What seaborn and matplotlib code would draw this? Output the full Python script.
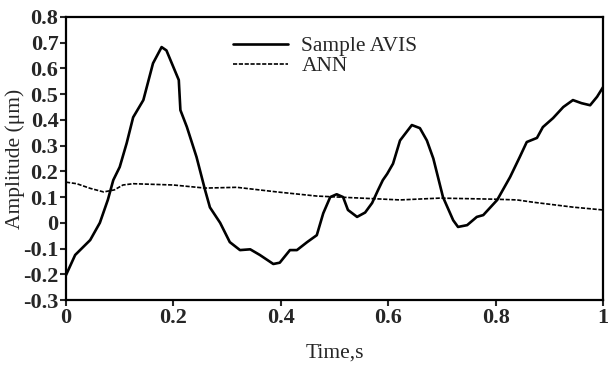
import matplotlib
matplotlib.use("Agg")
import matplotlib.pyplot as plt
import seaborn as sns
import numpy as np
import pandas as pd

# Sample AVIS (solid)
avis_t = [0.0, 0.017, 0.045, 0.063, 0.078, 0.088, 0.1, 0.113, 0.125, 0.144, 0.162,
          0.178, 0.187, 0.2, 0.21, 0.213, 0.225, 0.243, 0.259, 0.268, 0.287, 0.305,
          0.324, 0.343, 0.361, 0.386, 0.398, 0.417, 0.43, 0.449, 0.467, 0.479, 0.492,
          0.504, 0.516, 0.525, 0.542, 0.557, 0.57, 0.581, 0.59, 0.598, 0.609, 0.622,
          0.644, 0.659, 0.672, 0.684, 0.702, 0.721, 0.73, 0.747, 0.765, 0.777, 0.803,
          0.827, 0.845, 0.858, 0.877, 0.888, 0.907, 0.926, 0.944, 0.96, 0.976, 0.989, 1.0]
avis_y = [-0.203, -0.125, -0.067, 0.0, 0.09, 0.166, 0.217, 0.31, 0.41, 0.477, 0.62,
          0.683, 0.67, 0.605, 0.555, 0.438, 0.373, 0.256, 0.127, 0.06, 0.0, -0.075,
          -0.106, -0.103, -0.125, -0.16, -0.155, -0.106, -0.106, -0.075, -0.048, 0.037, 0.1,
          0.111, 0.1, 0.05, 0.023, 0.04, 0.077, 0.127, 0.166, 0.19, 0.23, 0.32,
          0.38, 0.368, 0.32, 0.25, 0.1, 0.01, -0.016, -0.009, 0.023, 0.03, 0.089,
          0.178, 0.256, 0.314, 0.33, 0.372, 0.407, 0.45, 0.477, 0.465, 0.457, 0.49, 0.527]

# ANN (dashed)
ann_t = [0.0, 0.02, 0.045, 0.07, 0.09, 0.106, 0.125, 0.2, 0.259, 0.318, 0.393,
         0.467, 0.622, 0.696, 0.795, 0.84, 0.87, 0.944, 1.0]
ann_y = [0.158, 0.152, 0.134, 0.12, 0.128, 0.147, 0.152, 0.147, 0.135, 0.138, 0.12,
         0.104, 0.089, 0.096, 0.092, 0.089, 0.08, 0.061, 0.05]

df_avis = pd.DataFrame({"t": avis_t, "y": avis_y})
df_ann = pd.DataFrame({"t": ann_t, "y": ann_y})

sns.set_style("ticks")
plt.rcParams["font.family"] = ["Liberation Serif", "DejaVu Serif"]

fig = plt.figure(figsize=(6.13, 3.66), dpi=100)
ax = fig.add_axes([0.1077, 0.1803, 0.876, 0.7733])

sns.lineplot(data=df_avis, x="t", y="y", ax=ax, color="black", linewidth=1.9,
             label="Sample AVIS")
sns.lineplot(data=df_ann, x="t", y="y", ax=ax, color="black", linewidth=1.2,
             linestyle=(0, (2.5, 1)), label="ANN")

ax.set_xlim(0, 1)
ax.set_ylim(-0.3, 0.8)
ax.set_xticks([0, 0.2, 0.4, 0.6, 0.8, 1])
ax.set_xticklabels(["0", "0.2", "0.4", "0.6", "0.8", "1"])
yt = [-0.3, -0.2, -0.1, 0, 0.1, 0.2, 0.3, 0.4, 0.5, 0.6, 0.7, 0.8]
ax.set_yticks(yt)
ax.set_yticklabels(["0" if v == 0 else f"{v:.1f}" for v in yt])
ax.tick_params(direction="out", length=4, width=1.5, labelsize=16, pad=1.5)
for lab in ax.get_xticklabels() + ax.get_yticklabels():
    lab.set_fontweight("bold")
for s in ax.spines.values():
    s.set_linewidth(1.6)
    s.set_color("black")

ax.set_xlabel("Time,s", fontsize=15.5)
ax.set_ylabel("Amplitude (μm)", fontsize=15.5)
ax.xaxis.set_label_coords(0.5, -0.155)
ax.yaxis.set_label_coords(-0.077, 0.5)

ax.legend(loc="upper left", bbox_to_anchor=(0.29, 0.97), frameon=False, fontsize=15.5,
          handlelength=2.6, handletextpad=0.6, labelspacing=0.0, borderpad=0)

fig.savefig("out.png", dpi=100)
